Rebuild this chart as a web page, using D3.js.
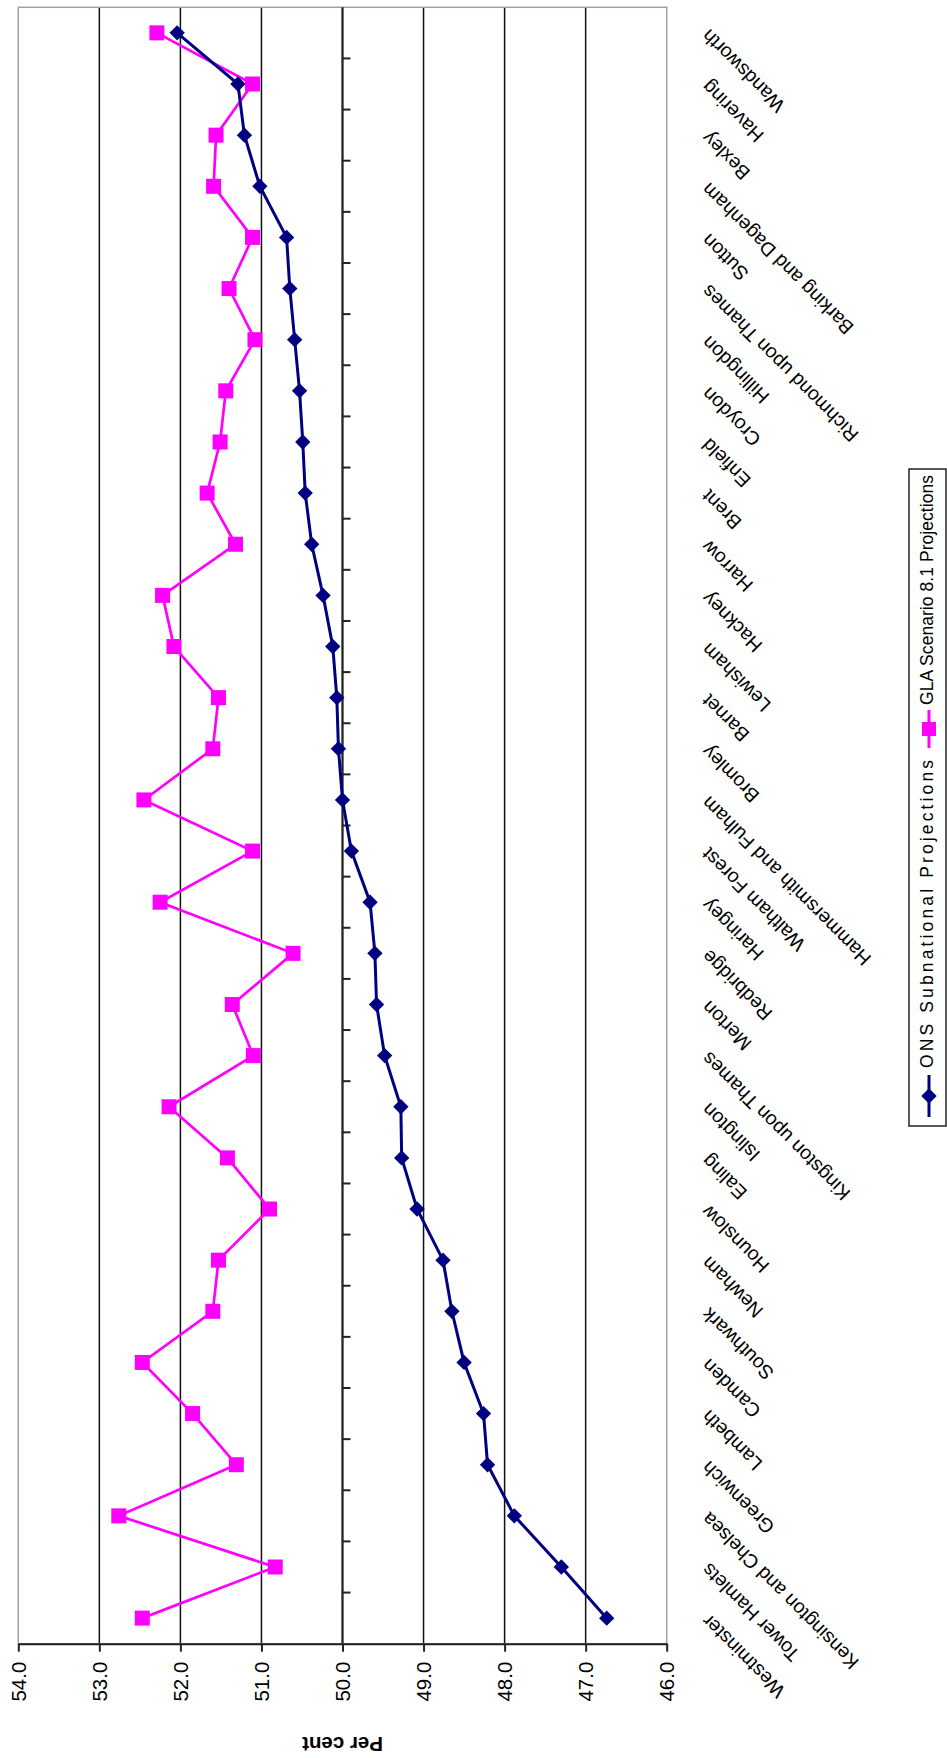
<!DOCTYPE html>
<html>
<head>
<meta charset="utf-8">
<script src="https://cdn.jsdelivr.net/npm/d3@7"></script>
<style>
  body { margin: 0; background: #fff; }
  svg { display: block; font-family: "Liberation Sans", Arial, sans-serif; }
</style>
</head>
<body>
<div id="chart"></div>
<script>
// boroughs, from bottom of the (rotated) chart to top
const categories = ["Westminster", "Tower Hamlets", "Kensington and Chelsea", "Greenwich", "Lambeth",
    "Camden", "Southwark", "Newham", "Hounslow", "Ealing", "Islington", "Kingston upon Thames", "Merton",
    "Redbridge", "Haringey", "Waltham Forest", "Hammersmith and Fulham", "Bromley", "Barnet", "Lewisham",
    "Hackney", "Harrow", "Brent", "Enfield", "Croydon", "Hillingdon", "Richmond upon Thames", "Sutton",
    "Barking and Dagenham", "Bexley", "Havering", "Wandsworth"];

const onsValues = [46.74, 47.30, 47.88, 48.21, 48.26, 48.50, 48.65, 48.76, 49.08, 49.27, 49.28, 49.48,
    49.58, 49.60, 49.66, 49.89, 50.00, 50.05, 50.07, 50.12, 50.24, 50.38, 50.46, 50.49, 50.53, 50.59,
    50.65, 50.69, 51.02, 51.21, 51.29, 52.04];

const glaValues = [52.47, 50.83, 52.76, 51.31, 51.85, 52.47, 51.60, 51.53, 50.90, 51.42, 52.14, 51.10,
    51.36, 50.61, 52.25, 51.11, 52.45, 51.60, 51.53, 52.08, 52.22, 51.32, 51.67, 51.51, 51.44, 51.08,
    51.40, 51.11, 51.59, 51.56, 51.11, 52.29];

const valueTicks = [54, 53, 52, 51, 50, 49, 48, 47, 46];

const seriesNames = ["ONS Subnational Projections", "GLA Scenario 8.1 Projections"];

const W = 947, H = 1758;
const plot = { left: 18.3, right: 666.7, top: 7.3, bottom: 1643.7 };

const svg = d3.select("#chart").append("svg")
    .attr("width", W)
    .attr("height", H);

const x = d3.scaleLinear().domain([54, 46]).range([plot.left, plot.right]);
const y = d3.scaleBand().domain(categories).range([plot.bottom, plot.top]);
const yc = d => y(d) + y.bandwidth() / 2;

// gridlines
svg.append("g")
    .selectAll("line")
    .data(valueTicks.slice(1, -1))
    .join("line")
    .attr("x1", d => x(d)).attr("x2", d => x(d))
    .attr("y1", plot.top).attr("y2", plot.bottom)
    .attr("stroke", "#111")
    .attr("stroke-width", 1.5);

// plot border
svg.append("rect")
    .attr("x", plot.left).attr("y", plot.top)
    .attr("width", plot.right - plot.left)
    .attr("height", plot.bottom - plot.top)
    .attr("fill", "none")
    .attr("stroke", "#a0a0a0")
    .attr("stroke-width", 1.5);

// category axis crosses at 50.0
const catAxis = svg.append("g");
catAxis.append("line")
    .attr("x1", x(50)).attr("x2", x(50))
    .attr("y1", plot.top).attr("y2", plot.bottom)
    .attr("stroke", "#222").attr("stroke-width", 2);
catAxis.selectAll("line.tick")
    .data(categories.slice(1))
    .join("line")
    .attr("class", "tick")
    .attr("x1", x(50)).attr("x2", x(50) + 8)
    .attr("y1", d => y(d) + y.bandwidth()).attr("y2", d => y(d) + y.bandwidth())
    .attr("stroke", "#222").attr("stroke-width", 2);

// category labels (upside down, like the rest of the turned chart)
svg.append("g")
    .selectAll("text")
    .data(categories)
    .join("text")
    .attr("transform", d => `translate(705,${yc(d)}) rotate(-135)`)
    .attr("text-anchor", "end")
    .attr("dy", "0.35em")
    .attr("font-size", "19.5px")
    .attr("fill", "#000")
    .text(d => d);

// value axis at the bottom
const valAxis = svg.append("g")
    .attr("transform", `translate(0,${plot.bottom})`)
    .call(d3.axisBottom(x).tickValues(valueTicks).tickSize(8).tickSizeOuter(0).tickFormat(d3.format(".1f")));
valAxis.select(".domain").attr("stroke", "#222").attr("stroke-width", 2);
valAxis.selectAll(".tick line").attr("stroke", "#222").attr("stroke-width", 2);
valAxis.selectAll(".tick text")
    .attr("y", 0).attr("x", 0)
    .attr("transform", "translate(0,18) rotate(-90)")
    .attr("text-anchor", "end")
    .attr("dy", "0.35em")
    .attr("font-size", "20.5px")
    .attr("font-family", "Liberation Sans, Arial, sans-serif")
    .attr("fill", "#000");

svg.append("text")
    .attr("transform", `translate(${(plot.left + plot.right) / 2},1737) rotate(180)`)
    .attr("text-anchor", "middle")
    .attr("font-size", "20.5px")
    .attr("font-weight", "bold")
    .text("Per cent");

// series
const line = d3.line().x(d => x(d.v)).y(d => yc(d.c));
const glaData = categories.map((c, i) => ({ c: c, v: glaValues[i] }));
const onsData = categories.map((c, i) => ({ c: c, v: onsValues[i] }));

svg.append("path")
    .datum(glaData)
    .attr("d", line)
    .attr("fill", "none")
    .attr("stroke", "#ff00ff")
    .attr("stroke-width", 2.7);
svg.append("g")
    .selectAll("rect")
    .data(glaData)
    .join("rect")
    .attr("x", d => x(d.v) - 7.5).attr("y", d => yc(d.c) - 7.5)
    .attr("width", 15).attr("height", 15)
    .attr("fill", "#ff00ff");

svg.append("path")
    .datum(onsData)
    .attr("d", line)
    .attr("fill", "none")
    .attr("stroke", "#000080")
    .attr("stroke-width", 3);
const diamond = d3.symbol().type(d3.symbolDiamond2).size(150);
svg.append("g")
    .selectAll("path")
    .data(onsData)
    .join("path")
    .attr("transform", d => `translate(${x(d.v)},${yc(d.c)})`)
    .attr("d", diamond)
    .attr("fill", "#000080");

// legend (rotated with the chart)
const legend = svg.append("g");
legend.append("rect")
    .attr("x", 909).attr("y", 469)
    .attr("width", 37).attr("height", 657)
    .attr("fill", "#fff")
    .attr("stroke", "#222")
    .attr("stroke-width", 1.5);

const legendItems = [
    { name: seriesNames[0], color: "#000080", mark: "diamond", y0: 1117, y1: 1075, ym: 1096, ty: 1068, len: 308 },
    { name: seriesNames[1], color: "#ff00ff", mark: "square", y0: 748, y1: 710, ym: 729, ty: 705, len: 230 }
];
legendItems.forEach(it => {
    legend.append("line")
        .attr("x1", 929).attr("x2", 929)
        .attr("y1", it.y0).attr("y2", it.y1)
        .attr("stroke", it.color).attr("stroke-width", 3);
    if (it.mark === "square") {
        legend.append("rect")
            .attr("x", 929 - 7).attr("y", it.ym - 7)
            .attr("width", 14).attr("height", 14)
            .attr("fill", it.color);
    } else {
        legend.append("path")
            .attr("transform", `translate(929,${it.ym})`)
            .attr("d", diamond)
            .attr("fill", it.color);
    }
    legend.append("text")
        .attr("transform", `translate(927,${it.ty}) rotate(-90)`)
        .attr("text-anchor", "start")
        .attr("dy", "0.35em")
        .attr("font-size", "17.5px")
        .attr("textLength", it.len)
        .attr("lengthAdjust", "spacing")
        .text(it.name);
});
</script>
</body>
</html>
